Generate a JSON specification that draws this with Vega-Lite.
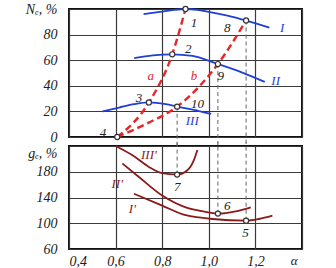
{
  "$schema": "https://vega.github.io/schema/vega-lite/v6.json",
  "padding": {"left": 3, "top": 1, "right": 5, "bottom": 3},
  "spacing": 9,
  "bounds": "flush",
  "config": {
    "view": {"stroke": "#111", "strokeWidth": 2},
    "axis": {"grid": true, "gridColor": "#3a3a3a", "gridWidth": 1.2, "domain": false, "ticks": false, "labelFont": "Liberation Serif", "labelFontStyle": "italic", "labelFontSize": 14, "labelColor": "#222", "title": null},
    "text": {"font": "Liberation Serif", "fontStyle": "italic", "fontSize": 13}
  },
  "datasets": {
    "top": [
      {"curve": "I", "kind": "blue", "alpha": 0.72, "N": 96},
      {"curve": "I", "kind": "blue", "alpha": 0.79, "N": 97.7},
      {"curve": "I", "kind": "blue", "alpha": 0.85, "N": 99.3},
      {"curve": "I", "kind": "blue", "alpha": 0.90, "N": 100},
      {"curve": "I", "kind": "blue", "alpha": 0.95, "N": 99.4},
      {"curve": "I", "kind": "blue", "alpha": 1.0, "N": 97.8},
      {"curve": "I", "kind": "blue", "alpha": 1.08, "N": 94.8},
      {"curve": "I", "kind": "blue", "alpha": 1.16, "N": 91},
      {"curve": "I", "kind": "blue", "alpha": 1.26, "N": 85.5},
      {"curve": "II", "kind": "blue", "alpha": 0.68, "N": 61.7},
      {"curve": "II", "kind": "blue", "alpha": 0.76, "N": 63.8},
      {"curve": "II", "kind": "blue", "alpha": 0.843, "N": 64.6},
      {"curve": "II", "kind": "blue", "alpha": 0.93, "N": 63.3},
      {"curve": "II", "kind": "blue", "alpha": 1.039, "N": 57},
      {"curve": "II", "kind": "blue", "alpha": 1.144, "N": 50.3},
      {"curve": "II", "kind": "blue", "alpha": 1.24, "N": 43},
      {"curve": "III", "kind": "blue", "alpha": 0.543, "N": 20},
      {"curve": "III", "kind": "blue", "alpha": 0.615, "N": 23},
      {"curve": "III", "kind": "blue", "alpha": 0.68, "N": 25.6},
      {"curve": "III", "kind": "blue", "alpha": 0.743, "N": 27},
      {"curve": "III", "kind": "blue", "alpha": 0.815, "N": 25.6},
      {"curve": "III", "kind": "blue", "alpha": 0.864, "N": 23.7},
      {"curve": "III", "kind": "blue", "alpha": 0.958, "N": 20.3},
      {"curve": "III", "kind": "blue", "alpha": 1.01, "N": 18},
      {"curve": "a", "kind": "red", "alpha": 0.607, "N": 0},
      {"curve": "a", "kind": "red", "alpha": 0.743, "N": 27},
      {"curve": "a", "kind": "red", "alpha": 0.843, "N": 64.6},
      {"curve": "a", "kind": "red", "alpha": 0.90, "N": 100},
      {"curve": "b", "kind": "red", "alpha": 0.607, "N": 0},
      {"curve": "b", "kind": "red", "alpha": 0.74, "N": 11},
      {"curve": "b", "kind": "red", "alpha": 0.864, "N": 23.7},
      {"curve": "b", "kind": "red", "alpha": 1.039, "N": 57},
      {"curve": "b", "kind": "red", "alpha": 1.16, "N": 91}
    ],
    "bottom": [
      {"curve": "III'", "alpha": 0.60, "g": 220},
      {"curve": "III'", "alpha": 0.671, "g": 205.9},
      {"curve": "III'", "alpha": 0.743, "g": 187.5},
      {"curve": "III'", "alpha": 0.80, "g": 177.8},
      {"curve": "III'", "alpha": 0.864, "g": 175.6},
      {"curve": "III'", "alpha": 0.908, "g": 182.4},
      {"curve": "III'", "alpha": 0.936, "g": 198},
      {"curve": "III'", "alpha": 0.951, "g": 213.7},
      {"curve": "II'", "alpha": 0.629, "g": 192.9},
      {"curve": "II'", "alpha": 0.70, "g": 171.9},
      {"curve": "II'", "alpha": 0.80, "g": 143.1},
      {"curve": "II'", "alpha": 0.901, "g": 124.8},
      {"curve": "II'", "alpha": 0.958, "g": 119.6},
      {"curve": "II'", "alpha": 1.039, "g": 115},
      {"curve": "II'", "alpha": 1.115, "g": 118.5},
      {"curve": "II'", "alpha": 1.18, "g": 124.8},
      {"curve": "I'", "alpha": 0.679, "g": 145.8},
      {"curve": "I'", "alpha": 0.80, "g": 127.5},
      {"curve": "I'", "alpha": 0.901, "g": 112.5},
      {"curve": "I'", "alpha": 0.958, "g": 109},
      {"curve": "I'", "alpha": 1.015, "g": 106.6},
      {"curve": "I'", "alpha": 1.16, "g": 104},
      {"curve": "I'", "alpha": 1.215, "g": 106.6},
      {"curve": "I'", "alpha": 1.273, "g": 111.8}
    ],
    "drops": [
      {"alpha": 0.864, "N": 23.7, "g": 175.6},
      {"alpha": 1.039, "N": 57, "g": 115},
      {"alpha": 1.16, "N": 91, "g": 104}
    ],
    "topPoints": [
      {"alpha": 0.90, "N": 100},
      {"alpha": 0.843, "N": 64.6},
      {"alpha": 0.743, "N": 27},
      {"alpha": 0.607, "N": 0},
      {"alpha": 1.16, "N": 91},
      {"alpha": 1.039, "N": 57},
      {"alpha": 0.864, "N": 23.7}
    ],
    "bottomPoints": [
      {"alpha": 1.16, "g": 104},
      {"alpha": 1.039, "g": 115},
      {"alpha": 0.864, "g": 175.6}
    ],
    "topLabels": [
      {"text": "1", "kind": "num", "alpha": 0.936, "N": 89.3},
      {"text": "2", "kind": "num", "alpha": 0.912, "N": 68.5},
      {"text": "3", "kind": "num", "alpha": 0.700, "N": 30.7},
      {"text": "4", "kind": "num", "alpha": 0.546, "N": 3.5},
      {"text": "8", "kind": "num", "alpha": 1.079, "N": 85.4},
      {"text": "9", "kind": "num", "alpha": 1.051, "N": 47.7},
      {"text": "10", "kind": "num", "alpha": 0.951, "N": 25.5},
      {"text": "I", "kind": "blue", "alpha": 1.315, "N": 85.4},
      {"text": "II", "kind": "blue", "alpha": 1.287, "N": 43.75},
      {"text": "III", "kind": "blue", "alpha": 0.929, "N": 12.5},
      {"text": "a", "kind": "red", "alpha": 0.751, "N": 47.7},
      {"text": "b", "kind": "red", "alpha": 0.936, "N": 47.7}
    ],
    "bottomLabels": [
      {"text": "7", "kind": "num", "alpha": 0.865, "g": 156.2},
      {"text": "6", "kind": "num", "alpha": 1.079, "g": 127.5},
      {"text": "5", "kind": "num", "alpha": 1.158, "g": 85.6},
      {"text": "III'", "kind": "dark", "alpha": 0.743, "g": 205.9},
      {"text": "II'", "kind": "dark", "alpha": 0.607, "g": 161.5},
      {"text": "I'", "kind": "dark", "alpha": 0.672, "g": 122.3},
      {"text": "α", "kind": "num", "alpha": 1.366, "g": 41.5}
    ]
  },
  "vconcat": [
    {
      "width": 233,
      "height": 128,
      "encoding": {
        "x": {"field": "alpha", "type": "quantitative", "scale": {"domain": [0.4, 1.4]}, "axis": {"values": [0.4, 0.6, 0.8, 1.0, 1.2, 1.4], "labels": false}},
        "y": {"field": "N", "type": "quantitative", "scale": {"domain": [0, 100]}, "axis": {"values": [0, 20, 40, 60, 80, 100], "labelExpr": "datum.value == 100 ? 'Nₑ, %' : datum.label", "labelPadding": 12, "minExtent": 65, "maxExtent": 65}}
      },
      "layer": [
        {
          "data": {"name": "drops"},
          "mark": {"type": "rule", "color": "#666", "strokeWidth": 1, "strokeDash": [4, 3], "clip": false},
          "encoding": {"y2": {"datum": -7}}
        },
        {
          "data": {"name": "top"},
          "transform": [{"filter": "datum.kind == 'blue'"}],
          "mark": {"type": "line", "color": "#1f3fd6", "strokeWidth": 1.8, "interpolate": "monotone"},
          "encoding": {"detail": {"field": "curve"}}
        },
        {
          "data": {"name": "top"},
          "transform": [{"filter": "datum.kind == 'red'"}],
          "mark": {"type": "line", "color": "#e5262b", "strokeWidth": 2.4, "strokeDash": [7, 4], "interpolate": "monotone"},
          "encoding": {"detail": {"field": "curve"}}
        },
        {
          "data": {"name": "topPoints"},
          "mark": {"type": "point", "shape": "circle", "filled": true, "color": "white", "stroke": "#333", "strokeWidth": 1.2, "size": 26, "opacity": 1, "clip": false}
        },
        {
          "data": {"name": "topLabels"},
          "mark": {"type": "text", "align": "center", "baseline": "middle", "clip": false},
          "encoding": {
            "text": {"field": "text"},
            "color": {"field": "kind", "type": "nominal", "scale": {"domain": ["num", "blue", "red", "dark"], "range": ["#222222", "#1f3fd6", "#e5262b", "#8b1a1a"]}, "legend": null}
          }
        }
      ]
    },
    {
      "width": 233,
      "height": 103,
      "encoding": {
        "x": {"field": "alpha", "type": "quantitative", "scale": {"domain": [0.4, 1.4]}, "axis": {"values": [0.4, 0.6, 0.8, 1.0, 1.2, 1.4], "labelExpr": "datum.value == 1.4 ? '' : replace(format(datum.value, '.1f'), '.', ',')", "labelPadding": 5}},
        "y": {"field": "g", "type": "quantitative", "scale": {"domain": [60, 220]}, "axis": {"values": [60, 100, 140, 180, 220], "labelExpr": "datum.value == 220 ? 'gₑ, %' : datum.label", "labelBaseline": {"condition": {"test": "datum.value == 220", "value": "top"}, "value": "middle"}, "labelPadding": 12, "minExtent": 65, "maxExtent": 65}}
      },
      "layer": [
        {
          "data": {"name": "drops"},
          "mark": {"type": "rule", "color": "#666", "strokeWidth": 1, "strokeDash": [4, 3], "clip": false},
          "encoding": {"y2": {"datum": 226}}
        },
        {
          "data": {"name": "bottom"},
          "mark": {"type": "line", "color": "#8b1a1a", "strokeWidth": 1.8, "interpolate": "monotone"},
          "encoding": {"detail": {"field": "curve"}}
        },
        {
          "data": {"name": "bottomPoints"},
          "mark": {"type": "point", "shape": "circle", "filled": true, "color": "white", "stroke": "#333", "strokeWidth": 1.2, "size": 26, "opacity": 1}
        },
        {
          "data": {"name": "bottomLabels"},
          "mark": {"type": "text", "align": "center", "baseline": "middle", "clip": false},
          "encoding": {
            "text": {"field": "text"},
            "color": {"field": "kind", "type": "nominal", "scale": {"domain": ["num", "blue", "red", "dark"], "range": ["#222222", "#1f3fd6", "#e5262b", "#8b1a1a"]}, "legend": null}
          }
        }
      ]
    }
  ]
}
